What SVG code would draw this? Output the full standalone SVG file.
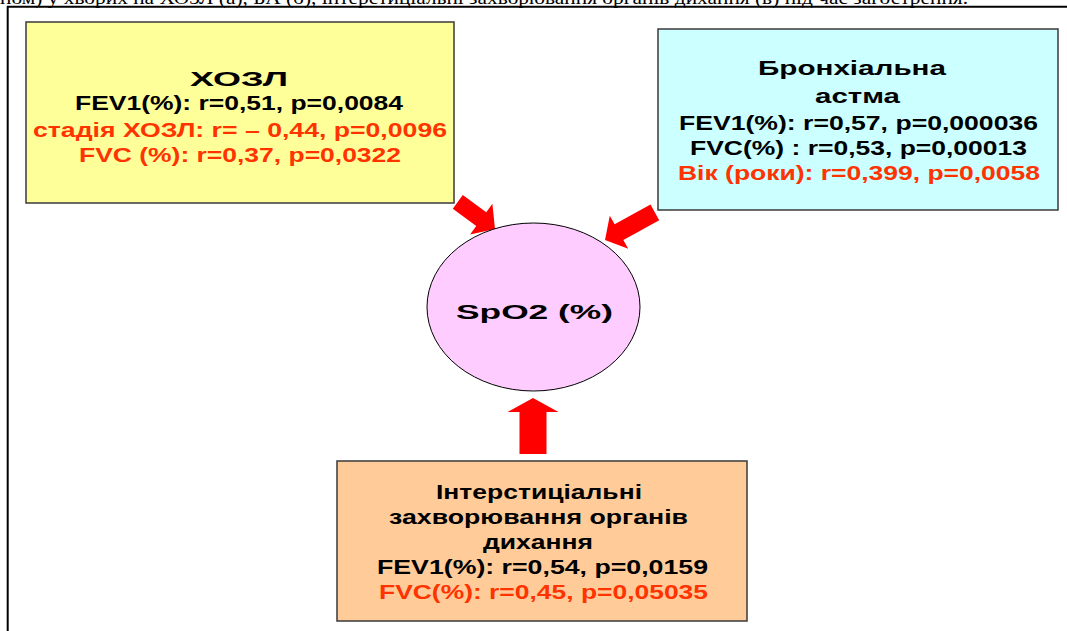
<svg xmlns="http://www.w3.org/2000/svg" width="1067" height="631" viewBox="0 0 1067 631">
<style>
.box{stroke:#3a3a3a;stroke-width:1.5}
.t{font-family:"Liberation Sans",Arial,sans-serif;font-weight:bold;font-size:19.5px;fill:#000}
.r{fill:#FF3300}
.arrow{fill:#FF0000;stroke:none}
.cap{font-family:"Liberation Serif","Times New Roman",serif;font-size:18px;fill:#000}
</style>
<rect width="1067" height="631" fill="#fff"/>
<text class="cap" x="0" y="4" textLength="968" lengthAdjust="spacingAndGlyphs">ном) у хворих на ХОЗЛ (а), БА (б), інтерстиціальні захворювання органів дихання (в) під час загострення.</text>
<path d="M7.7,631 V6.7 H1067" fill="none" stroke="#000" stroke-width="2"/>

<g id="connectors">
<path class="arrow" transform="translate(495,229) rotate(36)" d="M-46,-8.5 L-17,-8.5 L-17,-19 L0,0 L-17,19 L-17,8.5 L-46,8.5 Z"/>
<path class="arrow" transform="translate(605,240) rotate(151)" d="M-57,-9 L-16,-9 L-16,-19 L0,0 L-16,19 L-16,9 L-57,9 Z"/>
<path class="arrow" transform="translate(533,398) rotate(-90)" d="M-56,-13.5 L-14,-13.5 L-14,-25.5 L0,0 L-14,25.5 L-14,13.5 L-56,13.5 Z"/>
</g>

<g id="node-copd">
<rect class="box" x="26" y="22" width="428" height="181" fill="#FFFF99"/>
<text class="t" x="190" y="86" font-size="31" textLength="98" lengthAdjust="spacingAndGlyphs">ХОЗЛ</text>
<text class="t" x="75" y="110" textLength="328" lengthAdjust="spacingAndGlyphs">FEV1(%): r=0,51, p=0,0084</text>
<text class="t r" x="33" y="136.5" textLength="414" lengthAdjust="spacingAndGlyphs">стадія ХОЗЛ: r= – 0,44, p=0,0096</text>
<text class="t r" x="79" y="161.5" textLength="322" lengthAdjust="spacingAndGlyphs">FVC (%): r=0,37, p=0,0322</text>
</g>

<g id="node-asthma">
<rect class="box" x="658" y="29" width="400" height="181" fill="#CCFFFF"/>
<text class="t" x="758" y="75" textLength="188" lengthAdjust="spacingAndGlyphs">Бронхіальна</text>
<text class="t" x="815" y="103" textLength="85" lengthAdjust="spacingAndGlyphs">астма</text>
<text class="t" x="679" y="130" textLength="359" lengthAdjust="spacingAndGlyphs">FEV1(%): r=0,57, p=0,000036</text>
<text class="t" x="690" y="155" textLength="337" lengthAdjust="spacingAndGlyphs">FVC(%) : r=0,53, p=0,00013</text>
<text class="t r" x="678" y="180" textLength="362" lengthAdjust="spacingAndGlyphs">Вік (роки): r=0,399, p=0,0058</text>
</g>

<g id="node-spo2">
<ellipse cx="533.5" cy="307" rx="106.5" ry="84" fill="#FFCCFF" stroke="#000" stroke-width="1"/>
<text class="t" x="456" y="319" font-size="34" textLength="157" lengthAdjust="spacingAndGlyphs">SpO2 (%)</text>
</g>

<g id="node-ild">
<rect class="box" x="337" y="461" width="410" height="160" fill="#FFCC99"/>
<text class="t" x="436" y="499" textLength="206" lengthAdjust="spacingAndGlyphs">Інтерстиціальні</text>
<text class="t" x="389" y="524" textLength="299" lengthAdjust="spacingAndGlyphs">захворювання органів</text>
<text class="t" x="483" y="549" textLength="110" lengthAdjust="spacingAndGlyphs">дихання</text>
<text class="t" x="377" y="574" textLength="331" lengthAdjust="spacingAndGlyphs">FEV1(%): r=0,54, p=0,0159</text>
<text class="t r" x="379" y="599" textLength="329" lengthAdjust="spacingAndGlyphs">FVC(%): r=0,45, p=0,05035</text>
</g>
</svg>
